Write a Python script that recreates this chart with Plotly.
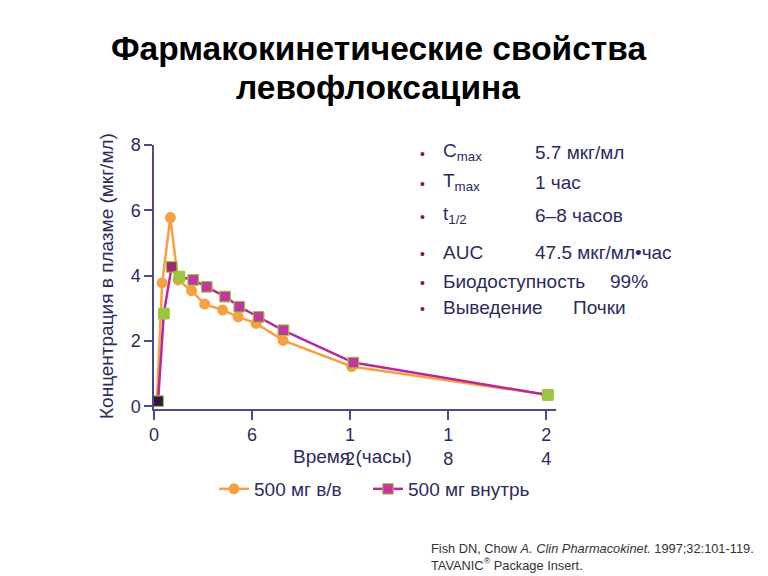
import plotly.graph_objects as go

# ---- data ----
iv_time = [0.18, 0.5, 1.0, 1.47, 2.3, 3.1, 4.2, 5.15, 6.25, 7.9, 12.1, 24.0]
iv_conc = [0.19, 3.78, 5.78, 3.87, 3.54, 3.13, 2.95, 2.74, 2.54, 2.02, 1.22, 0.36]
po_time = [0.25, 0.6, 1.08, 1.55, 2.4, 3.23, 4.35, 5.22, 6.4, 7.92, 12.2, 24.1]
po_conc = [0.16, 2.84, 4.27, 3.97, 3.87, 3.66, 3.36, 3.05, 2.74, 2.33, 1.34, 0.35]
po_marker_colors = ["#3A1248", "#9CC540", "#A0286E", "#9CC540", "#C2379F", "#C2379F",
                    "#C2379F", "#C2379F", "#C2379F", "#C2379F", "#C2379F", "#9CC540"]

x_tickvals = [0, 6, 12, 18, 24]
x_ticktext = ["0", "6", "1<br>2", "1<br>8", "2<br>4"]
y_tickvals = [0, 2, 4, 6, 8]

series_names = ["500 мг в/в", "500 мг внутрь"]

title_lines = ["Фармакокинетические свойства", "левофлоксацина"]
x_title = "Время (часы)"
y_title = "Концентрация в плазме (мкг/мл)"

param_labels = ["C<sub>max</sub>", "T<sub>max</sub>", "t<sub>1/2</sub>", "AUC",
                "Биодоступность", "Выведение"]
param_values = ["5.7 мкг/мл", "1 час", "6–8 часов", "47.5 мкг/мл•час", "99%", "Почки"]

footnote = ("Fish DN, Chow <i>A. Clin Pharmacokinet.</i> 1997;32:101-119.<br>"
            "TAVANIC<sup>®</sup> Package Insert.")

# ---- styles ----
FONT = "Liberation Sans, Arial, sans-serif"
NAVY = "#2B2B62"
AXIS = "#4B4B8C"
ORANGE = "#F6A03F"
MAGENTA = "#B8289B"
MARKER_MAGENTA = "#C2379F"
GREEN = "#9CC540"
BULLET = "#8B1A1A"

OFF = 8  # page body margin
W, H = 768 - OFF, 576 - OFF
L, R, T, B = 154, 556, 145, 409  # plot area in page pixels


def px(xp):
    return (xp - L) / (R - L)


def py(yp):
    return (B - yp) / (B - T)


fig = go.Figure()
fig.add_trace(go.Scatter(
    x=iv_time, y=iv_conc, name=series_names[0], mode="lines+markers",
    line=dict(color=ORANGE, width=2.5),
    marker=dict(symbol="circle", size=11, color=ORANGE),
    legend="legend",
))
fig.add_trace(go.Scatter(
    x=po_time, y=po_conc, name=series_names[1], mode="lines+markers",
    line=dict(color=MAGENTA, width=2.5),
    marker=dict(symbol="square", size=10.5, color=MARKER_MAGENTA,
                line=dict(color=GREEN, width=1)),
    legend="legend2",
))
fig.add_trace(go.Scatter(
    x=po_time, y=po_conc, name=series_names[1], mode="markers", showlegend=False,
    marker=dict(symbol="square", size=10.5, color=po_marker_colors,
                line=dict(color=GREEN, width=1)),
    hoverinfo="skip",
))

annotations = []
# title
for txt, yy in zip(title_lines, [48, 87]):
    annotations.append(dict(x=px(378), y=py(yy), xref="paper", yref="paper",
                            text="<b>" + txt + "</b>", showarrow=False,
                            font=dict(family=FONT, size=33.5, color="#000000"),
                            xanchor="center", yanchor="middle"))
# axis titles
annotations.append(dict(x=px(352), y=py(456), xref="paper", yref="paper",
                        text=x_title, showarrow=False,
                        font=dict(family=FONT, size=19, color=NAVY),
                        xanchor="center", yanchor="middle"))
annotations.append(dict(x=px(106), y=py(276), xref="paper", yref="paper",
                        text=y_title, showarrow=False, textangle=-90,
                        font=dict(family=FONT, size=19, color=NAVY),
                        xanchor="center", yanchor="middle"))
# parameter list
row_y = [152, 182, 215, 252, 281, 307]
val_x = [533, 533, 533, 533, 608, 571]
for lab, val, yy, vx in zip(param_labels, param_values, row_y, val_x):
    annotations.append(dict(x=px(422), y=py(yy + 2), xref="paper", yref="paper",
                            text="•", showarrow=False,
                            font=dict(family=FONT, size=14, color=BULLET),
                            xanchor="center", yanchor="middle"))
    annotations.append(dict(x=px(441), y=py(yy), xref="paper", yref="paper",
                            text=lab, showarrow=False,
                            font=dict(family=FONT, size=19, color=NAVY),
                            xanchor="left", yanchor="middle"))
    annotations.append(dict(x=px(vx), y=py(yy), xref="paper", yref="paper",
                            text=val, showarrow=False,
                            font=dict(family=FONT, size=19, color=NAVY),
                            xanchor="left", yanchor="middle"))
# footnote
annotations.append(dict(x=px(429), y=py(557), xref="paper", yref="paper",
                        text=footnote, showarrow=False, align="left",
                        font=dict(family=FONT, size=12.8, color="#333333"),
                        xanchor="left", yanchor="middle"))

legend_common = dict(orientation="h", xanchor="left", yanchor="middle",
                     font=dict(family=FONT, size=19, color=NAVY),
                     bgcolor="rgba(0,0,0,0)")

fig.update_layout(
    width=W, height=H,
    margin=dict(l=L - OFF, r=768 - R, t=T - OFF, b=576 - B, autoexpand=False),
    paper_bgcolor="white", plot_bgcolor="white",
    font=dict(family=FONT, size=17, color=NAVY),
    showlegend=True,
    legend=dict(x=px(214), y=py(489), **legend_common),
    legend2=dict(x=px(368), y=py(489), **legend_common),
    annotations=annotations,
    xaxis=dict(range=[0, 24.6], tickvals=x_tickvals, ticktext=x_ticktext,
               showgrid=False, zeroline=False, showline=True, linecolor=AXIS, linewidth=1.5,
               ticks="outside", ticklen=9, tickcolor=AXIS, tickwidth=1.5,
               tickfont=dict(family=FONT, size=18, color=NAVY)),
    yaxis=dict(range=[-0.08, 8], tickvals=y_tickvals,
               showgrid=False, zeroline=False, showline=True, linecolor=AXIS, linewidth=1.5,
               ticks="outside", ticklen=8, tickcolor=AXIS, tickwidth=1.5,
               tickfont=dict(family=FONT, size=18, color=NAVY)),
)

fig.write_html("out.html")
